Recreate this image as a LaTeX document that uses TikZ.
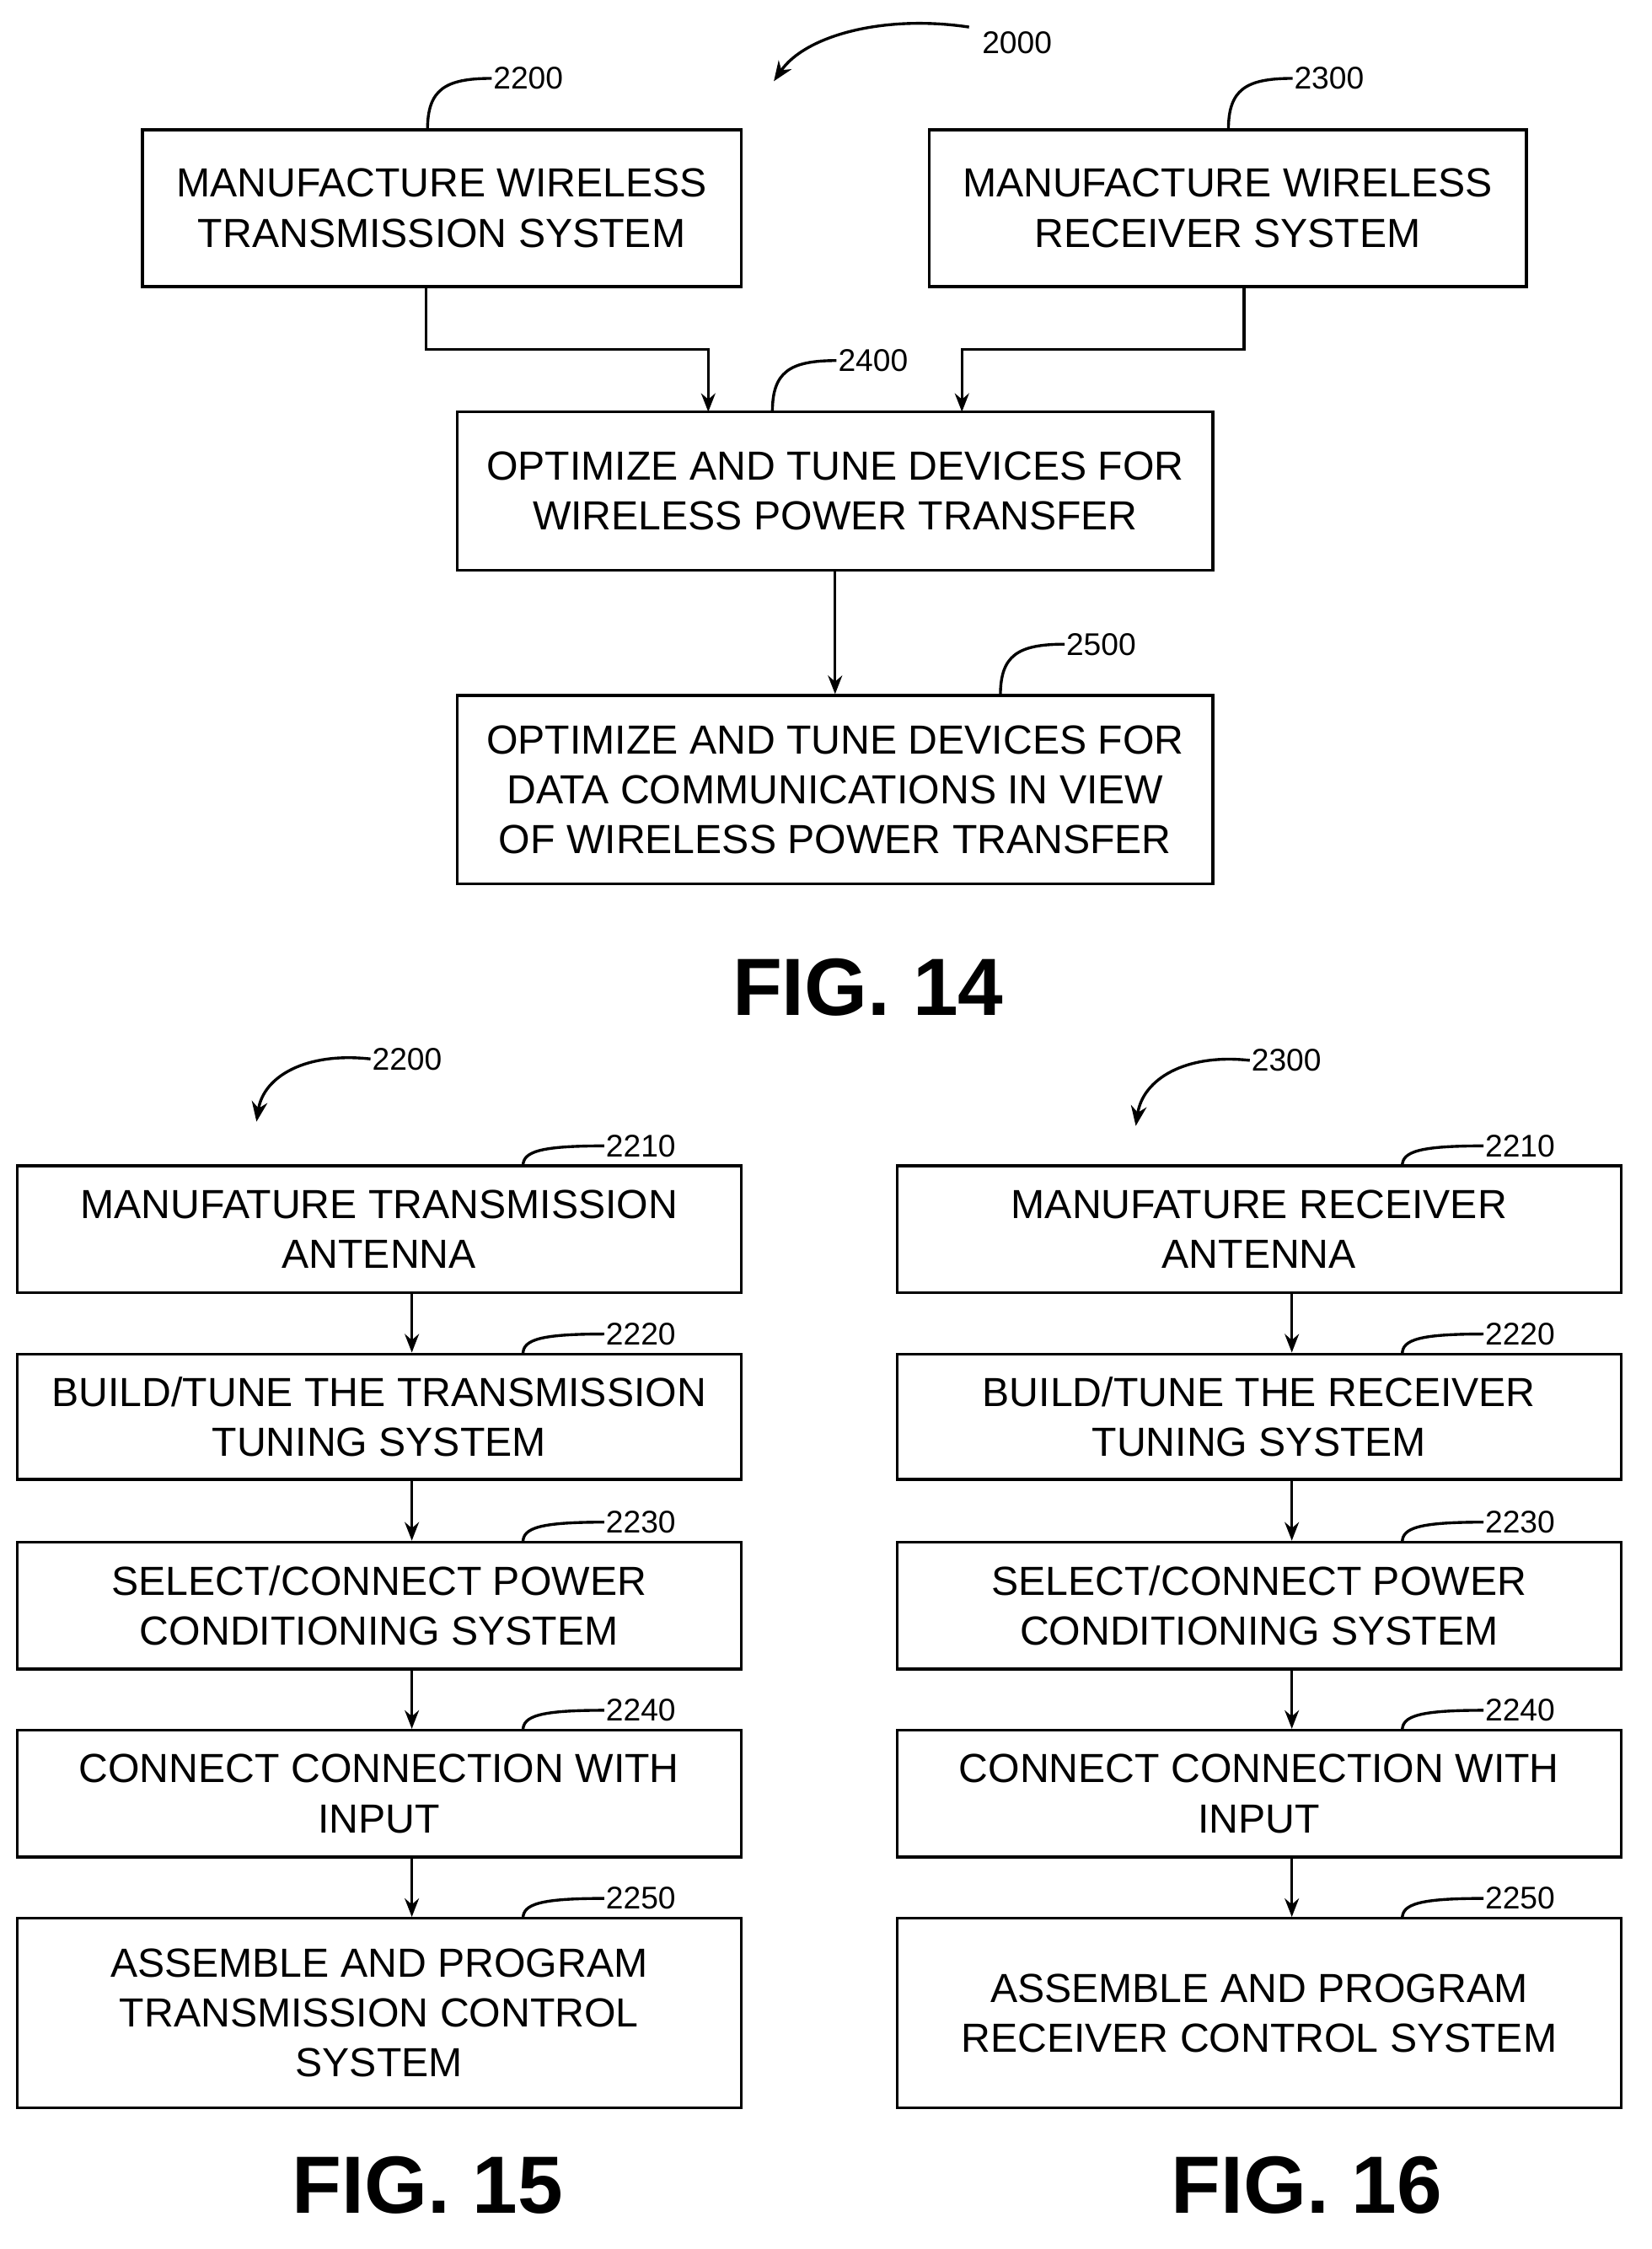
\documentclass[tikz,border=0pt]{standalone}
\usepackage{fontspec}
\setmainfont{Liberation Sans}
\usetikzlibrary{arrows.meta}
\begin{document}
\begin{tikzpicture}[x=1pt,y=-1pt,
 box/.style={draw,line width=2pt,align=center,inner sep=0pt,font=\fontsize{28.5}{35}\selectfont},
 lbl/.style={anchor=west,inner sep=1pt,font=\fontsize{22}{24}\selectfont},
 arr/.style={line width=2pt,-{Stealth[length=13pt,width=10pt]}},
 lead/.style={line width=2pt},
 fig/.style={font=\fontsize{57}{60}\selectfont\bfseries}]
\useasboundingbox (0,0) rectangle (1159,1578);
% FIG 14
\node[box,minimum width=420,minimum height=110] (a) at (310,146) {MANUFACTURE WIRELESS\\TRANSMISSION SYSTEM};
\node[box,minimum width=419,minimum height=110] (b) at (861.5,146) {MANUFACTURE WIRELESS\\RECEIVER SYSTEM};
\node[box,minimum width=530,minimum height=111] (c) at (586,344.5) {OPTIMIZE AND TUNE DEVICES FOR\\WIRELESS POWER TRANSFER};
\node[box,minimum width=530,minimum height=132] (d) at (586,554) {OPTIMIZE AND TUNE DEVICES FOR\\DATA COMMUNICATIONS IN VIEW\\OF WIRELESS POWER TRANSFER};
\coordinate (ab) at (299,201); \coordinate (bb) at (873,201);
\draw[arr] (ab) |- (497,245) -- (497,289);
\draw[arr] (bb) |- (675,245) -- (675,289);
\draw[arr] (c.south) -- (d.north);
\node[fig] (f14) at (609,693) {FIG. 14};
\node[lbl] (l2000) at (688,30) {2000};
\coordinate (s2000) at (680,19);
\draw[line width=2pt,-{Stealth[length=14pt,width=11pt]}] (s2000) .. controls (620,10) and (565,25) .. (543,57);
\foreach \x/\y/\t in {300/91/2200,862/91/2300,542/289/2400,702/488/2500}{
 \node[lbl] (l\t) at (\x+45,\y-36) {\t};
 \draw[lead] (\x,\y) .. controls (\x,\y-28) and (\x+12,\y-36) .. (l\t.west);
}
% FIG 15 / 16
\foreach \side/\cx/\ax/\kw in {L/266/289/TRANSMISSION,R/883.5/906/RECEIVER}{
 \node[box,minimum width=508,minimum height=89] (\side1) at (\cx,862.5) {MANUFATURE \kw\\ANTENNA};
 \node[box,minimum width=508,minimum height=88] (\side2) at (\cx,994) {BUILD/TUNE THE \kw\\TUNING SYSTEM};
 \node[box,minimum width=508,minimum height=89] (\side3) at (\cx,1126.5) {SELECT/CONNECT POWER\\CONDITIONING SYSTEM};
 \node[box,minimum width=508,minimum height=89] (\side4) at (\cx,1258.5) {CONNECT CONNECTION WITH\\INPUT};
 \foreach \i/\y in {1/818,2/950,3/1082,4/1214,5/1346}{
  \node[lbl] (\side l\i) at (\ax+135,\y-14) {22\i0};
  \draw[lead] (\ax+78,\y) .. controls (\ax+78,\y-10) and (\ax+90,\y-14) .. (\side l\i.west);
 }
}
\node[box,minimum width=508,minimum height=133] (L5) at (266,1412.5) {ASSEMBLE AND PROGRAM\\TRANSMISSION CONTROL\\SYSTEM};
\node[box,minimum width=508,minimum height=133] (R5) at (883.5,1412.5) {ASSEMBLE AND PROGRAM\\RECEIVER CONTROL SYSTEM};
\foreach \side in {L,R}{
 \draw[arr] ([xshift=23pt]\side1.south) -- ([xshift=23pt]\side2.north);
 \draw[arr] ([xshift=23pt]\side2.south) -- ([xshift=23pt]\side3.north);
 \draw[arr] ([xshift=23pt]\side3.south) -- ([xshift=23pt]\side4.north);
 \draw[arr] ([xshift=23pt]\side4.south) -- ([xshift=23pt]\side5.north);
}
\node[lbl] (l15) at (260,743) {2200};
\draw[line width=2pt,-{Stealth[length=14pt,width=11pt]}] (l15.west) .. controls (215,738) and (185,755) .. (180,787);
\node[lbl] (l16) at (877,744) {2300};
\draw[line width=2pt,-{Stealth[length=14pt,width=11pt]}] (l16.west) .. controls (832,739) and (802,757) .. (797,790);
\node[fig] (f15) at (300,1533) {FIG. 15};
\node[fig] (f16) at (917,1533) {FIG. 16};
\end{tikzpicture}
\end{document}
